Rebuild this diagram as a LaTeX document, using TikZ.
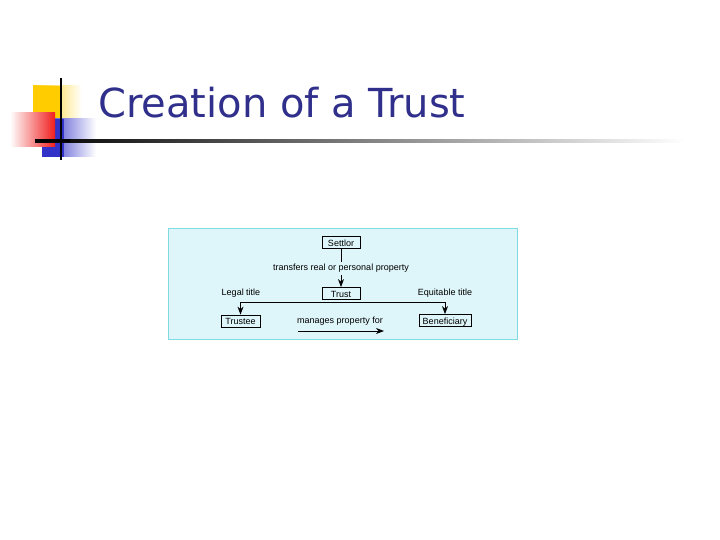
\documentclass[tikz,border=0pt]{standalone}
\usepackage{fontspec}
\setmainfont{Liberation Sans}
\newfontfamily\titlefont{DejaVu Sans}
\usetikzlibrary{arrows.meta,calc}
\definecolor{titleblue}{RGB}{48,48,140}
\definecolor{boxfill}{RGB}{222,245,249}
\definecolor{boxline}{RGB}{128,220,228}
\definecolor{sqyellow}{RGB}{255,204,0}
\definecolor{sqred}{RGB}{240,30,30}
\definecolor{sqblue}{RGB}{50,50,200}
\tikzset{
  lbl/.style={font=\fontsize{9}{10}\selectfont, inner sep=0pt},
  rbox/.style={draw=black, line width=0.8pt, fill=none, font=\fontsize{9}{10}\selectfont, inner xsep=0pt, inner ysep=2pt, text height=7.5pt, text depth=0.5pt, minimum height=12pt},
  conn/.style={line width=1pt},
  arr/.style={conn, -{Stealth[length=8pt,width=6pt,inset=2.5pt]}},
}
\begin{document}
\begin{tikzpicture}[x=1pt,y=-1pt]
\useasboundingbox (0,0) rectangle (720,540);
% decoration squares
\shade[left color=sqyellow, right color=white] (33,86) rectangle (82,119);
\fill[sqyellow] (33,86) rectangle (60,119);
\shade[left color=sqblue, right color=white] (42,119) rectangle (96,157);
\fill[sqblue] (42,119) rectangle (64,157);
\shade[left color=white, right color=sqred] (10,113) rectangle (55,147);
% lines
\shade[left color=black, right color=white] (35,139.5) rectangle (685,142.5);
\fill[black] (35,139.5) rectangle (70,142.5);
\draw[black, line width=2pt] (61,78) -- (61,160);
% title
\node[anchor=base west, inner sep=0pt, text=titleblue, font=\titlefont\fontsize{40}{44}\selectfont] (title) at (98,118) {Creation of a Trust};
% diagram background
\draw[fill=boxfill, draw=boxline, line width=1pt] (168,229) rectangle (517,339);
% nodes
\node[rbox, minimum width=38pt] (settlor) at (341,242.5) {Settlor};
\node[rbox, minimum width=38pt] (trust) at (341,293.5) {Trust};
\node[rbox, minimum width=39pt] (trustee) at (240.5,321) {Trustee};
\node[rbox, minimum width=52pt] (benef) at (445,320.5) {Beneficiary};
\node[lbl] (transfers) at (341,268) {transfers real or personal property};
\node[lbl] (legal) at (241,293) {Legal title};
\node[lbl] (equit) at (445,293) {Equitable title};
\node[lbl] (manages) at (340,321) {manages property for};
% connectors
\coordinate (tstem) at (341,262);
\coordinate (tarr) at (341,275);
\draw[conn] (settlor.south) -- (tstem);
\draw[arr] (tarr) -- (trust.north);
\coordinate (split) at (341,302);
\draw[conn] (241,302) -- (444.5,302);
\draw[arr] (split) -| (trustee.north);
\draw[arr] (split) -| (benef.north);
\coordinate (mstart) at (298,331);
\coordinate (mend) at (384,331);
\draw[arr] (mstart) -- (mend);
\end{tikzpicture}
\end{document}
